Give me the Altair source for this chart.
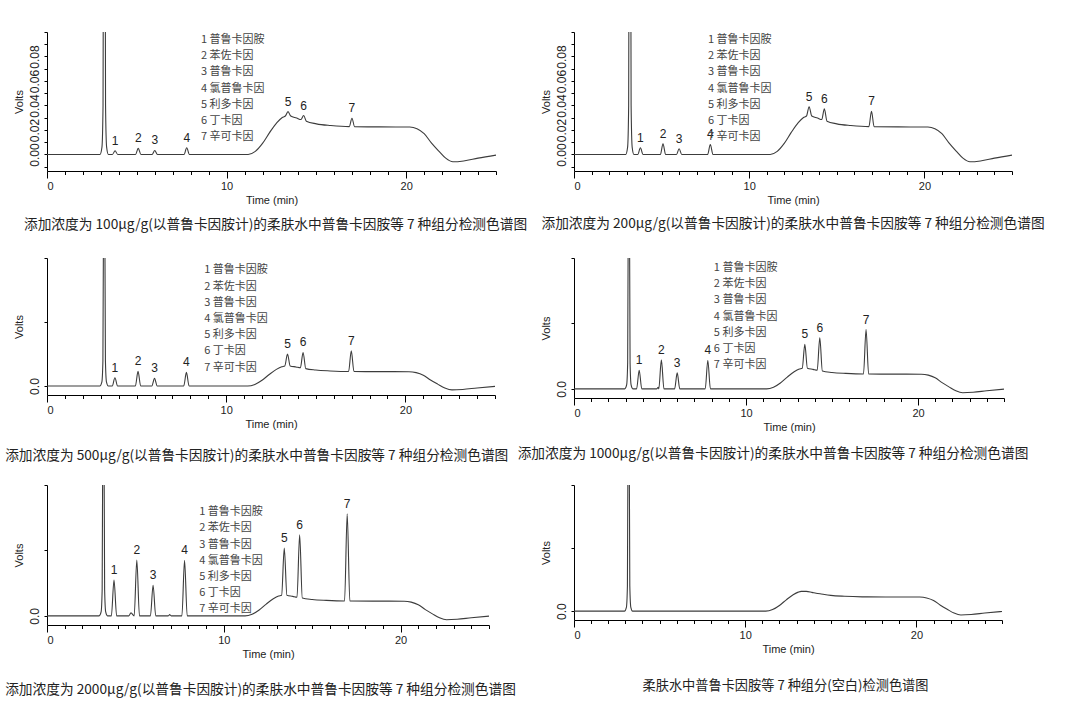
import altair as alt
import pandas as pd

# ---- shared baseline trace (time in min, signal in volts) ----
base_t = [0.0, 2.95, 3.06, 3.12, 3.16, 3.19, 3.22, 3.26, 3.32, 3.42,
          3.64, 3.94, 4.93, 5.23, 5.85, 6.15, 7.63, 7.93,
          11.2, 11.6, 12.0, 12.4, 12.8, 13.1, 13.27, 13.57, 13.9, 14.14, 14.44,
          15.0, 15.8, 16.83, 17.13, 18.5, 20.2, 20.6, 21.0, 21.4, 21.8, 22.2,
          22.6, 23.2, 24.0, 25.0]
base_v = [0.0, 0.0, 0.006, 0.04, 0.3, 1.2, 0.3, 0.04, 0.006, 0.0,
          0.0, 0.0, 0.0, 0.0, 0.0, 0.0, 0.0, 0.0,
          0.0, 0.0025, 0.009, 0.018, 0.026, 0.0302, 0.0314, 0.0314, 0.0298, 0.0285, 0.0272,
          0.025, 0.0236, 0.0227, 0.0226, 0.0225, 0.0224, 0.021, 0.017, 0.0095, 0.003, -0.003,
          -0.006, -0.0053, -0.003, -0.0005]

# ---- analyte peaks ----
peak_rt = [3.79, 5.08, 6.00, 7.78, 13.42, 14.29, 16.98]
peak_labels = ["1", "2", "3", "4", "5", "6", "7"]
legend_lines = ["1 普鲁卡因胺", "2 苯佐卡因", "3 普鲁卡因", "4 氯普鲁卡因",
                "5 利多卡因", "6 丁卡因", "7 辛可卡因"]

apex_100 = [0.003, 0.005, 0.0033, 0.0055, 0.035, 0.0318, 0.0296]
apex_200 = [0.0055, 0.0088, 0.0047, 0.0082, 0.039, 0.0373, 0.0353]
apex_500 = [0.013, 0.0229, 0.012, 0.0213, 0.050, 0.0525, 0.055]
apex_1000 = [0.0285, 0.0443, 0.0244, 0.0438, 0.068, 0.078, 0.0906]
apex_2000 = [0.0548, 0.0853, 0.0467, 0.0848, 0.1036, 0.124, 0.156]

# small unlabelled impurity bumps (time, volts)
bump_1000_t = [4.80, 4.90]
bump_1000_v = [0.0, 0.0022]
bump_2000_t = [4.63, 4.75, 6.86, 6.94, 7.02]
bump_2000_v = [0.0, 0.0046, 0.0, 0.0018, 0.0]

captions = [
    "添加浓度为 100µg/g(以普鲁卡因胺计)的柔肤水中普鲁卡因胺等 7 种组分检测色谱图",
    "添加浓度为 200µg/g(以普鲁卡因胺计)的柔肤水中普鲁卡因胺等 7 种组分检测色谱图",
    "添加浓度为 500µg/g(以普鲁卡因胺计)的柔肤水中普鲁卡因胺等 7 种组分检测色谱图",
    "添加浓度为 1000µg/g(以普鲁卡因胺计)的柔肤水中普鲁卡因胺等 7 种组分检测色谱图",
    "添加浓度为 2000µg/g(以普鲁卡因胺计)的柔肤水中普鲁卡因胺等 7 种组分检测色谱图",
    "柔肤水中普鲁卡因胺等 7 种组分(空白)检测色谱图",
]

small_ticks = [-0.01, 0.0, 0.01, 0.02, 0.03, 0.04, 0.05, 0.06, 0.07, 0.08, 0.09, 0.10]
big_ticks = [0.0, 0.1, 0.2]
x_ticks = list(range(0, 26))

FONT = "Liberation Sans"
CJK = "Noto Sans CJK SC"
INK = "#222222"


def panel(apex, width, height, small, legend_x, legend_y, caption, cap_off, cap_dx,
          cap_size, extra_t=(), extra_v=()):
    t = base_t + (peak_rt if apex else []) + list(extra_t)
    v = base_v + (apex if apex else []) + list(extra_v)
    df = pd.DataFrame({"t": t, "v": v}).sort_values("t")

    xaxis = alt.Axis(
        values=x_ticks,
        labelExpr="datum.value % 10 === 0 ? datum.label : ''",
        tickSize={"condition": {"test": "datum.value % 10 === 0", "value": 7}, "value": 3.5},
        grid=False, domainColor="#000", tickColor="#000", labelColor=INK, titleColor=INK,
        labelFont=FONT, titleFont=FONT, labelFontSize=11, titleFontSize=11,
        titleFontWeight="normal", labelPadding=2, titlePadding=3, labelOverlap=False,
    )
    if small:
        ydom = [-0.0135, 0.1]
        yvals = small_ticks
        lexpr = ("indexof(['0.00','0.02','0.04','0.06','0.08'], format(datum.value, '.2f')) >= 0"
                 " ? format(datum.value, '.2f') : ''")
    else:
        ydom = [-0.014, 0.2]
        yvals = big_ticks
        lexpr = "datum.value === 0 ? '0.0' : ''"
    yaxis = alt.Axis(
        values=yvals, labelExpr=lexpr, labelAngle=270, labelAlign="center",
        labelBaseline="bottom", labelOverlap=False, labelPadding=3, tickSize=3,
        grid=False, domainColor="#000", tickColor="#000", labelColor=INK, titleColor=INK,
        labelFont=FONT, titleFont=FONT, labelFontSize=12, titleFontSize=11,
        titleFontWeight="normal", titlePadding=4,
    )
    x = alt.X("t:Q", scale=alt.Scale(domain=[0, 25], nice=False, zero=False),
              axis=xaxis, title="Time (min)")
    y = alt.Y("v:Q", scale=alt.Scale(domain=ydom, nice=False, zero=False),
              axis=yaxis, title="Volts")

    line = alt.Chart(df).mark_line(
        interpolate="monotone", clip=True, color="#3c3c3c", strokeWidth=1.1
    ).encode(x=x, y=y)
    layers = [line]
    if apex:
        lab = pd.DataFrame({"t": peak_rt, "v": apex, "lab": peak_labels})
        labels = alt.Chart(lab).mark_text(
            baseline="bottom", dy=-3, fontSize=12, font=FONT, color=INK
        ).encode(x=x, y=y, text="lab:N")
        leg = alt.Chart(pd.DataFrame({"t": [legend_x], "v": [legend_y]})).mark_text(
            text=legend_lines, align="left", baseline="top", lineHeight=16.2,
            fontSize=11, font=CJK, color="#444444"
        ).encode(x=x, y=y)
        layers += [labels, leg]
    return alt.layer(*layers).properties(
        width=width, height=height,
        title=alt.TitleParams(caption, orient="bottom", frame="group", offset=cap_off,
                              dx=cap_dx, baseline="middle", anchor="middle",
                              fontSize=cap_size, font=CJK, fontWeight="normal", color=INK),
    )


p1 = panel(apex_100, 449, 139, True, 8.57, 0.0984, captions[0], 20, 4, 13.7)
p2 = panel(apex_200, 438, 139, True, 7.65, 0.0984, captions[1], 19, 0, 13.7)
p3 = panel(apex_500, 448, 137, False, 8.77, 0.190, captions[2], 27, -14.3, 13.7)
p4 = panel(apex_1000, 430, 140, False, 8.13, 0.194, captions[3], 22, -16, 13.7,
           bump_1000_t, bump_1000_v)
p5 = panel(apex_2000, 442, 140, False, 8.61, 0.1676, captions[4], 31, -7.5, 13.7,
           bump_2000_t, bump_2000_v)
p6 = panel(None, 428, 135, False, 0, 0, captions[5], 32, -2.5, 13.2)

chart = alt.concat(p1, p2, p3, p4, p5, p6, columns=2,
                   spacing={"row": 87, "column": 78}, bounds="flush").properties(
    padding={"left": 5, "top": 31, "right": 5, "bottom": 5},
    background="white",
).configure_view(stroke=None)

chart.save("out.html", embed_options={"renderer": "svg", "actions": False})
